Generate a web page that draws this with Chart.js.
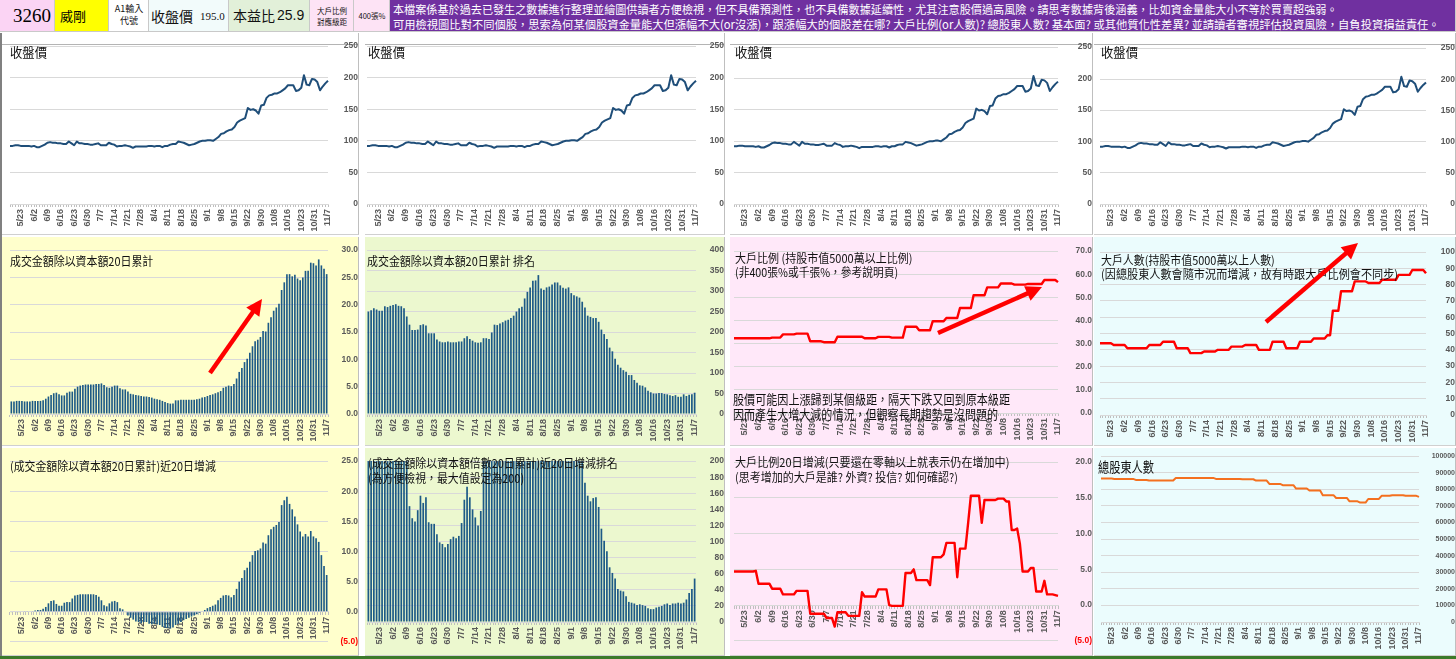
<!DOCTYPE html>
<html lang="zh-Hant">
<head>
<meta charset="utf-8">
<title>3260 威剛</title>
<script src="https://cdn.jsdelivr.net/npm/chart.js@4.4.1/dist/chart.umd.min.js"></script>
<style>
  html, body { margin: 0; padding: 0; }
  body { width: 1456px; height: 659px; overflow: hidden; position: relative; background: #fff;
         font-family: "Noto Sans CJK TC", "Noto Sans", sans-serif; }
  .cell, .panel, .txt, .bar { position: absolute; box-sizing: border-box; }
  .cell { top: 0; height: 32px; border-right: 1px solid #c9c9c9; border-bottom: 1px solid #c9c9c9; }
  .panel { overflow: hidden; border-right: 1px solid #bfbfbf; border-bottom: 1px solid #d0d0d0; }
  .panel canvas { position: absolute; left: 0; top: 0; }
  .txt { white-space: nowrap; transform-origin: 0 0; color: #111; font-size: 12px; line-height: 13px; }
  #arrows { position: absolute; left: 0; top: 0; pointer-events: none; }
</style>
</head>
<body>

<!-- header row -->
<div class="cell" style="left:0;width:55px;background:#fbd4f4"></div>
<div class="cell" style="left:55px;width:54px;background:#ffff00"></div>
<div class="cell" style="left:109px;width:40px;background:#fff"></div>
<div class="cell" style="left:149px;width:80px;background:#f2fbfb"></div>
<div class="cell" style="left:229px;width:81px;background:#e2f0d9"></div>
<div class="cell" style="left:310px;width:44px;background:#fde3f5"></div>
<div class="cell" style="left:354px;width:36px;background:#fde3f5"></div>
<div class="cell" style="left:390px;width:1066px;background:#7030a0"></div>

<div class="txt" style="left:13px;top:6px;font:19px/20px 'Liberation Serif',serif;color:#000">3260</div>
<div class="txt" style="left:60px;top:8px;font-size:13px;line-height:15px;color:#000">威剛</div>
<div class="txt" style="left:111px;top:3px;width:36px;text-align:center;font-size:9px;line-height:12px">A1輸入<br>代號</div>
<div class="txt" style="left:151px;top:7px;font-size:14px;line-height:18px">收盤價</div>
<div class="txt" style="left:200px;top:9px;font:11px/14px 'Liberation Serif',serif">195.0</div>
<div class="txt" style="left:233px;top:7px;font-size:14px;line-height:17px">本益比</div>
<div class="txt" style="left:277px;top:7px;font:14px/17px 'Liberation Sans',sans-serif">25.9</div>
<div class="txt" style="left:311px;top:5px;width:42px;text-align:center;font-size:7.5px;line-height:11px">大戶比例<br>對應級距</div>
<div class="txt" style="left:355px;top:10px;width:34px;text-align:center;font-size:7.5px;line-height:11px">400張%</div>
<div class="txt" data-w="945" style="left:393px;top:2px;font-size:11.5px;line-height:14px;color:#fff">本檔案係基於過去已發生之數據進行整理並繪圖供讀者方便檢視，但不具備預測性，也不具備數據延續性，尤其注意股價過高風險。請思考數據背後涵義，比如資金量能大小不等於買賣超強弱。</div>
<div class="txt" data-w="1047" style="left:393px;top:17px;font-size:11.5px;line-height:14px;color:#fff">可用檢視圖比對不同個股，思索為何某個股資金量能大但漲幅不大(or沒漲)，跟漲幅大的個股差在哪? 大戶比例(or人數)? 總股東人數? 基本面? 或其他質化性差異? 並請讀者審視評估投資風險，自負投資損益責任。</div>

<div class="bar" style="left:0;top:33px;width:2px;height:623px;background:#808080"></div>
<div class="bar" style="left:0;top:656px;width:1456px;height:3px;background:#3b7a2a"></div>

<script>
// ---- data ----
const dateTicks = ['5/23', '6/2', '6/9', '6/16', '6/23', '6/30', '7/7', '7/14', '7/21', '7/28', '8/4', '8/11',
  '8/18', '8/25', '9/1', '9/8', '9/15', '9/22', '9/30', '10/8', '10/16', '10/23', '10/31', '11/7'];
const pointCount = 120;
const firstTick = 4;
const tickGap = 5;

const closePrice = [
  92, 92, 93, 93, 92, 92, 92, 92, 91, 92,
  90, 90, 92, 94, 97, 98, 97, 97, 96, 96,
  95, 95, 99, 96, 93, 99, 96, 96, 95, 95,
  94, 94, 95, 96, 93, 93, 93, 97, 95, 94,
  91, 92, 92, 93, 92, 91, 89, 91, 91, 91,
  91, 91, 92, 92, 91, 92, 92, 90, 92, 92,
  94, 95, 95, 99, 98, 97, 95, 93, 94, 95,
  97, 99, 100, 100, 101, 101, 100, 103, 106, 111,
  112, 115, 117, 118, 122, 129, 132, 134, 136, 152,
  149, 150, 148, 143, 156, 157, 168, 172, 173, 175,
  175, 177, 180, 183, 188, 188, 188, 179, 180, 184,
  204, 189, 188, 198, 197, 193, 180, 186, 191, 195];

const turnover20 = [
  2.3, 2.3, 2.4, 2.4, 2.4, 2.3, 2.3, 2.3, 2.4, 2.4,
  2.4, 2.4, 2.5, 2.8, 3.2, 3.5, 3.8, 3.9, 3.6, 3.4,
  3.4, 3.9, 4.1, 4.1, 4.6, 5.0, 5.2, 5.3, 5.4, 5.4,
  5.4, 5.4, 5.5, 5.5, 5.6, 5.3, 4.9, 4.8, 5.0, 5.2,
  5.2, 4.7, 4.5, 4.5, 4.1, 3.7, 3.6, 3.5, 3.4, 3.3,
  3.2, 3.2, 3.1, 3.0, 2.8, 2.7, 2.6, 2.4, 2.2, 2.0,
  1.9, 1.9, 2.5, 2.5, 2.6, 2.6, 2.6, 2.6, 2.6, 2.6,
  2.7, 2.8, 3.0, 3.1, 3.3, 3.5, 3.6, 3.8, 4.0, 4.2,
  4.8, 5.0, 5.2, 5.1, 5.5, 6.5, 7.7, 8.4, 9.5, 10.1,
  11.2, 12.4, 13.3, 13.6, 14.1, 15.2, 15.1, 16.7, 17.7, 18.9,
  19.5, 20.2, 22.7, 24.1, 25.6, 25.6, 25.2, 25.5, 24.8, 24.5,
  25.0, 26.2, 26.2, 27.7, 27.6, 27.2, 28.3, 27.2, 26.6, 25.6];

const turnoverRank = [
  250, 253, 258, 255, 252, 252, 263, 261, 264, 266,
  268, 264, 263, 258, 238, 218, 205, 205, 206, 217,
  219, 216, 197, 197, 197, 182, 177, 175, 175, 177,
  175, 175, 175, 177, 177, 185, 190, 183, 179, 175,
  174, 175, 185, 185, 183, 199, 218, 217, 221, 224,
  228, 230, 234, 240, 250, 258, 262, 282, 298, 309,
  325, 326, 339, 306, 303, 309, 311, 316, 321, 321,
  314, 308, 306, 309, 295, 290, 287, 284, 274, 260,
  240, 237, 234, 234, 225, 206, 195, 183, 162, 153,
  135, 120, 113, 107, 103, 95, 95, 83, 76, 70,
  69, 65, 57, 53, 50, 50, 51, 51, 49, 48,
  46, 44, 46, 42, 42, 48, 44, 47, 48, 52];

const bigHolderPct = [
  32.3, 32.3, 32.3, 32.3, 32.3, 32.3, 32.3, 32.3, 32.3, 32.3,
  32.3, 32.3, 32.3, 32.3, 32.6, 32.6, 32.6, 32.6, 34.0, 34.0,
  34.0, 34.0, 34.0, 34.3, 34.3, 34.3, 34.3, 34.3, 31.0, 31.0,
  31.0, 31.0, 31.0, 30.6, 30.6, 30.6, 30.6, 30.6, 33.0, 33.0,
  33.0, 33.0, 33.0, 33.0, 33.0, 33.0, 33.0, 33.0, 32.3, 32.3,
  32.3, 32.3, 32.3, 32.9, 32.9, 32.9, 32.9, 32.9, 32.6, 32.6,
  32.6, 32.6, 32.6, 37.3, 37.3, 37.3, 37.3, 37.3, 35.8, 35.8,
  35.8, 35.8, 35.8, 39.7, 39.7, 39.7, 39.7, 39.7, 41.1, 41.1,
  41.1, 41.1, 41.1, 45.4, 45.4, 45.4, 45.4, 45.4, 50.9, 50.9,
  50.9, 50.9, 50.9, 54.3, 54.3, 54.3, 54.3, 54.3, 56.0, 56.0,
  56.0, 56.0, 56.0, 55.5, 55.5, 55.5, 55.5, 55.5, 55.8, 55.8,
  55.8, 55.8, 55.8, 55.8, 57.5, 57.5, 57.5, 57.5, 57.5, 56.6];

const bigHolderCount = [
  44, 44, 44, 44, 44, 43, 43, 43, 43, 43,
  41, 41, 41, 41, 41, 41, 41, 41, 43, 43,
  43, 43, 43, 45, 45, 45, 45, 45, 41, 41,
  41, 41, 41, 38, 38, 38, 38, 38, 39, 39,
  39, 39, 39, 40, 40, 40, 40, 40, 42, 42,
  42, 42, 42, 43, 43, 43, 43, 43, 40, 40,
  40, 40, 40, 45, 45, 45, 45, 45, 41, 41,
  41, 41, 41, 45, 45, 45, 45, 45, 47, 47,
  47, 47, 47, 49, 49, 64, 64, 64, 76, 76,
  76, 76, 76, 82, 82, 82, 82, 82, 81, 81,
  81, 81, 81, 83, 83, 83, 83, 83, 83, 86,
  86, 86, 86, 86, 89, 89, 89, 89, 89, 87];

const turnoverChg = [
  -0.1, -0.1, -0.1, -0.1, 0.1, 0.1, 0.1, 0.1, 0.1, 0.2,
  0.3, 0.3, 0.5, 0.8, 1.4, 1.8, 1.9, 1.3, 1.0, 1.0,
  1.5, 1.6, 1.6, 2.2, 2.7, 2.8, 2.9, 2.9, 2.9, 2.9,
  2.9, 2.9, 2.8, 2.5, 1.9, 1.1, 0.9, 1.4, 1.7, 1.8,
  1.6, 0.6, 0.4, -0.1, -0.6, -1.0, -1.3, -1.6, -1.7, -1.9,
  -1.7, -1.7, -2.0, -2.1, -2.0, -2.1, -2.2, -2.5, -2.7, -2.7,
  -2.8, -2.6, -2.2, -2.0, -1.7, -1.4, -1.2, -1.0, -0.8, -0.6,
  -0.4, -0.2, 0.0, 0.3, 0.6, 0.8, 1.0, 1.2, 1.9, 2.3,
  2.7, 2.8, 2.7, 2.4, 2.8, 3.8, 5.0, 5.6, 6.9, 7.3,
  8.3, 9.4, 10.1, 10.2, 10.5, 11.5, 11.3, 12.7, 13.7, 14.1,
  14.4, 14.9, 17.7, 18.5, 19.1, 17.9, 17.0, 15.8, 14.5, 13.3,
  12.5, 12.9, 12.5, 13.4, 12.5, 12.2, 11.6, 9.4, 7.6, 6.1];

// capped at 200 in the source sheet
const rankChg = [
  200, 200, 200, 200, 200, 200, 200, 200, 200, 200,
  200, 200, 200, 200, 200, 144, 129, 125, 139, 157,
  148, 155, 124, 122, 122, 109, 99, 97, 93, 97,
  103, 106, 104, 107, 123, 152, 168, 155, 140, 130,
  120, 138, 200, 200, 200, 200, 200, 200, 200, 200,
  200, 200, 200, 200, 200, 200, 200, 200, 200, 200,
  200, 200, 200, 200, 200, 200, 200, 200, 200, 200,
  200, 200, 200, 200, 200, 200, 200, 200, 200, 173,
  157, 150, 154, 155, 143, 116, 101, 88, 68, 61,
  54, 41, 39, 38, 32, 25, 24, 23, 21, 22,
  21, 20, 17, 16, 16, 18, 19, 20, 22, 23,
  21, 23, 23, 24, 23, 24, 28, 36, 41, 54];

const bigHolderPctChg = [
  4.7, 4.7, 4.7, 4.7, 4.7, 4.7, 4.7, 4.7, 4.8, 3.0,
  3.0, 3.0, 3.0, 3.0, 2.3, 2.3, 2.3, 2.3, 1.5, 1.5,
  1.5, 1.5, 1.5, 2.0, 2.0, 2.0, 2.0, 2.0, -1.2, -1.2,
  -1.2, -1.2, -1.2, -1.2, -1.8, -1.8, -1.8, -3.0, -1.0, -1.0,
  -1.0, -1.0, -1.5, -1.5, -1.5, -1.5, -1.5, 1.8, 1.2, 1.2,
  1.2, 1.2, 1.2, 2.2, 2.2, 2.2, 2.2, 0.0, -0.1, -0.1,
  -0.1, -0.1, -0.1, 4.5, 4.5, 4.5, 5.0, 3.5, 3.5, 3.5,
  3.5, 3.5, 2.8, 6.7, 6.7, 6.7, 6.7, 7.1, 8.7, 8.7,
  8.7, 8.7, 3.9, 7.9, 7.9, 7.9, 11.5, 15.3, 15.3, 15.3,
  15.3, 11.5, 14.7, 14.7, 14.7, 14.7, 14.7, 14.9, 14.9, 14.9,
  14.5, 14.5, 10.5, 10.5, 10.7, 8.6, 4.7, 4.7, 4.7, 5.2,
  5.2, 1.9, 1.9, 1.9, 3.4, 1.5, 1.5, 1.5, 1.4, 1.3];

const shareholders = [
  86500, 86500, 86500, 86500, 86500, 86300, 86300, 86300, 86300, 86300,
  86300, 86300, 86300, 85700, 85700, 85700, 85700, 85700, 85300, 85300,
  85300, 85300, 85300, 85300, 85300, 85300, 85300, 85300, 86900, 86900,
  86900, 86900, 86900, 86900, 86900, 86900, 86900, 86900, 86900, 86900,
  86900, 86900, 86900, 86300, 86300, 86300, 86300, 86300, 86300, 86300,
  86300, 86300, 86300, 86100, 86100, 86100, 86100, 86100, 85300, 85300,
  85300, 85300, 85300, 83300, 83300, 83300, 83300, 83300, 82500, 82500,
  82500, 82500, 82500, 80500, 80500, 80500, 80500, 80500, 79300, 79300,
  79300, 79300, 79300, 76500, 76500, 76500, 76500, 76500, 74800, 74800,
  74800, 74800, 74800, 72800, 72800, 72800, 72800, 72000, 72000, 72000,
  74200, 74200, 74200, 74200, 74200, 76100, 76100, 76100, 76100, 76500,
  76500, 76500, 76500, 76500, 76100, 76100, 76100, 76100, 76100, 75500];

const categories = Array.from({ length: pointCount }, (_, i) =>
  i >= firstTick && (i - firstTick) % tickGap === 0 ? dateTicks[(i - firstTick) / tickGap] : '');

// ---- layout ----
const colBox = [[2, 357], [365, 360], [730, 363], [1094, 362]];
const rowBox = [[33, 202], [237, 209], [448, 208]];
const colBg = ['#ffffcc', '#ecf8cf', '#ffe8f9', '#ebfcfd'];
const plotX = [[8, 326], [2, 331], [4, 328], [6, 332]];
const tickPad = [8, 8, 9, 10];
const BAR_COLOR = '#1d5a86';
const RED = '#ff0000';

const specs = [
  { r: 0, c: 0, kind: 'line', data: closePrice, color: '#1f4e79', width: 2, min: 0, max: 250, step: 50, dec: 0, top: 9, bottom: 171 },
  { r: 0, c: 1, kind: 'line', data: closePrice, color: '#1f4e79', width: 2, min: 0, max: 250, step: 50, dec: 0, top: 9, bottom: 171 },
  { r: 0, c: 2, kind: 'line', data: closePrice, color: '#1f4e79', width: 2, min: 0, max: 250, step: 50, dec: 0, top: 9, bottom: 171 },
  { r: 0, c: 3, kind: 'line', data: closePrice, color: '#1f4e79', width: 2, min: 0, max: 250, step: 50, dec: 0, top: 9, bottom: 171 },
  { r: 1, c: 0, kind: 'bar', data: turnover20, min: 0, max: 30, step: 5, dec: 1, top: 12, bottom: 177 },
  { r: 1, c: 1, kind: 'bar', data: turnoverRank, min: 0, max: 400, step: 50, dec: 0, top: 12, bottom: 177 },
  { r: 1, c: 2, kind: 'line', data: bigHolderPct, color: RED, width: 2.4, min: 0, max: 70, step: 10, dec: 1, top: 12, bottom: 176 },
  { r: 1, c: 3, kind: 'line', data: bigHolderCount, color: RED, width: 2.4, min: 0, max: 100, step: 10, dec: 0, top: 12, bottom: 178 },
  { r: 2, c: 0, kind: 'bar', data: turnoverChg, min: -5, max: 25, step: 5, dec: 1, top: 9, bottom: 198, zeroAxis: true },
  { r: 2, c: 1, kind: 'bar', data: rankChg, min: 0, max: 200, step: 20, dec: 0, top: 9, bottom: 174 },
  { r: 2, c: 2, kind: 'line', data: bigHolderPctChg, color: RED, width: 2.4, min: -5, max: 20, step: 5, dec: 1, top: 9, bottom: 198, zeroAxis: true },
  { r: 2, c: 3, kind: 'line', data: shareholders, color: '#f4701f', width: 2, min: 0, max: 100000, step: 10000, dec: 0, top: 8, bottom: 174, plot: [7, 325], pad: 4, tickSize: 7 },
];

Chart.defaults.font.family = "'Liberation Sans', Arial, sans-serif";

function fmtTick(v, dec) {
  const t = Math.abs(v).toFixed(dec);
  return v < 0 ? '(' + t + ')' : t;
}

function buildConfig(s, W, H, plotL, plotR) {
  const xHeight = s.zeroAxis ? 0 : H - s.bottom;
  const dataset = s.kind === 'bar'
    ? { data: s.data, backgroundColor: BAR_COLOR, borderWidth: 0, barPercentage: 0.62, categoryPercentage: 1 }
    : { data: s.data, borderColor: s.color, borderWidth: s.width, pointRadius: 0, tension: 0, fill: false, borderJoinStyle: 'round' };
  return {
    type: s.kind,
    data: { labels: categories, datasets: [dataset] },
    options: {
      responsive: false,
      animation: false,
      events: [],
      layout: { padding: { left: plotL, right: 0, top: s.top, bottom: s.zeroAxis ? H - s.bottom : 0 } },
      plugins: { legend: { display: false }, tooltip: { enabled: false } },
      scales: {
        x: {
          position: s.zeroAxis ? { y: 0 } : 'bottom',
          grid: { drawOnChartArea: false, drawTicks: true, tickLength: 3, color: '#bfbfbf' },
          border: { display: true, color: '#d9d9d9' },
          ticks: { autoSkip: false, maxRotation: 90, minRotation: 90, padding: 2, color: '#595959',
                   font: { size: 9, weight: 'bold' } },
          afterFit: sc => { sc.height = xHeight; }
        },
        y: {
          position: 'right',
          min: s.min,
          max: s.max,
          grid: { color: '#d9d9d9', drawTicks: false },
          border: { display: false },
          ticks: {
            stepSize: s.step,
            padding: s.pad || tickPad[s.c],
            crossAlign: 'far',
            color: ctx => ctx.tick.value < 0 ? RED : '#595959',
            font: { size: s.tickSize || 8.5, weight: 'bold' },
            callback: v => fmtTick(v, s.dec)
          },
          afterFit: sc => { sc.width = W - plotR; }
        }
      }
    }
  };
}

specs.forEach(s => {
  const [px, pw] = colBox[s.c];
  const [py, ph] = rowBox[s.r];
  const panel = document.createElement('div');
  panel.className = 'panel';
  Object.assign(panel.style, {
    left: px + 'px', top: py + 'px', width: pw + 'px', height: ph + 'px',
    background: s.r === 0 ? '#fff' : colBg[s.c]
  });
  document.body.appendChild(panel);
  if (s.r === 0) {
    const ln = document.createElement('div');
    Object.assign(ln.style, { position: 'absolute', left: 0, right: 0, top: (44 - py) + 'px', height: '1px', background: '#b4b4b4' });
    panel.appendChild(ln);
  }
  const cv = document.createElement('canvas');
  cv.width = pw - 1;
  cv.height = ph - 1;
  panel.appendChild(cv);
  const [plotL, plotR] = s.plot || plotX[s.c];
  new Chart(cv, buildConfig(s, pw - 1, ph - 1, plotL, plotR));
});

// ---- titles and notes (page coords, fitted to the widths seen in the sheet) ----
const notes = [
  [10, 44, 37, 13, '收盤價'],
  [368, 44, 37, 13, '收盤價'],
  [735, 44, 37, 13, '收盤價'],
  [1101, 44, 37, 13, '收盤價'],
  [10, 254, 143, 12, '成交金額除以資本額20日累計'],
  [367, 254, 168, 12, '成交金額除以資本額20日累計 排名'],
  [735, 251, 177, 12, '大戶比例 (持股市值5000萬以上比例)'],
  [735, 265, 163, 12, '(非400張%或千張%，參考說明頁)'],
  [733, 391, 277, 13, '股價可能因上漲歸到某個級距，隔天下跌又回到原本級距'],
  [733, 406, 265, 13, '因而產生大增大減的情況，但觀察長期趨勢是沒問題的'],
  [1101, 253, 174, 12, '大戶人數(持股市值5000萬以上人數)'],
  [1101, 267, 297, 12, '(因總股東人數會隨市況而增減，故有時跟大戶比例會不同步)'],
  [10, 459, 206, 12, '(成交金額除以資本額20日累計)近20日增減'],
  [368, 456, 250, 12, '(成交金額除以資本額倍數20日累計)近20日增減排名'],
  [368, 471, 156, 12, '(為方便檢視，最大值設定為200)'],
  [735, 455, 274, 12, '大戶比例20日增減(只要還在零軸以上就表示仍在增加中)'],
  [735, 470, 223, 12, '(思考增加的大戶是誰? 外資? 投信? 如何確認?)'],
  [1098, 458, 56, 14, '總股東人數'],
];
notes.forEach(([x, y, w, size, text]) => {
  const el = document.createElement('div');
  el.className = 'txt';
  el.dataset.w = w;
  Object.assign(el.style, { left: x + 'px', top: y + 'px', fontSize: size + 'px', lineHeight: (size + 2) + 'px' });
  el.textContent = text;
  document.body.appendChild(el);
});

document.querySelectorAll('[data-w]').forEach(el => {
  const natural = el.offsetWidth;
  if (natural > 0) el.style.transform = 'scaleX(' + (el.dataset.w / natural) + ')';
});

// ---- red trend arrows ----
const arrows = [[210, 373, 262, 299], [938, 333, 1042, 287], [1266, 322, 1358, 243]];
const svgNS = 'http://www.w3.org/2000/svg';
const svg = document.createElementNS(svgNS, 'svg');
svg.setAttribute('id', 'arrows');
svg.setAttribute('width', 1456);
svg.setAttribute('height', 659);
arrows.forEach(([x1, y1, x2, y2]) => {
  const len = Math.hypot(x2 - x1, y2 - y1);
  const ux = (x2 - x1) / len, uy = (y2 - y1) / len;
  const headLen = 16, headHalf = 8;
  const bx = x2 - ux * headLen, by = y2 - uy * headLen;
  const shaft = document.createElementNS(svgNS, 'line');
  shaft.setAttribute('x1', x1); shaft.setAttribute('y1', y1);
  shaft.setAttribute('x2', bx + ux * 2); shaft.setAttribute('y2', by + uy * 2);
  shaft.setAttribute('stroke', RED); shaft.setAttribute('stroke-width', 4.5);
  svg.appendChild(shaft);
  const head = document.createElementNS(svgNS, 'polygon');
  head.setAttribute('points', [
    x2 + ',' + y2,
    (bx - uy * headHalf) + ',' + (by + ux * headHalf),
    (bx + uy * headHalf) + ',' + (by - ux * headHalf)
  ].join(' '));
  head.setAttribute('fill', RED);
  svg.appendChild(head);
});
document.body.appendChild(svg);
</script>
</body>
</html>
